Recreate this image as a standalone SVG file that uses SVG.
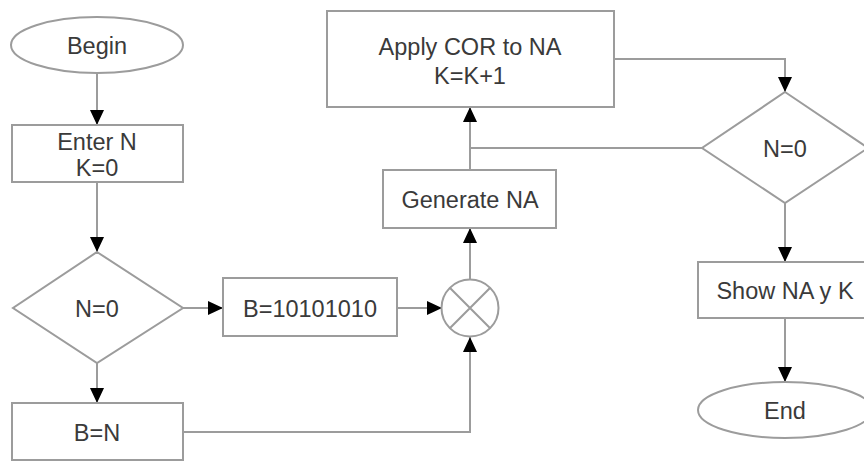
<svg xmlns="http://www.w3.org/2000/svg" width="864" height="461" viewBox="0 0 864 461">
<style>
.s{fill:#fff;stroke:#9c9c9c;stroke-width:2}
.t{font-family:"Liberation Sans",Arial,sans-serif;font-size:23.5px;fill:#3a3a3a;text-anchor:middle}
.c{fill:none;stroke:#9c9c9c;stroke-width:2}
</style>
<defs>
<marker id="a" markerUnits="userSpaceOnUse" markerWidth="16" markerHeight="16" viewBox="0 0 16 16" refX="15" refY="8" orient="auto">
<path d="M0,1 L15,8 L0,15 Z" fill="#000"/>
</marker>
</defs>
<rect width="864" height="461" fill="#fff"/>
<g id="connectors">
<path class="c" d="M97,73 V125" marker-end="url(#a)"/>
<path class="c" d="M97,182 V252" marker-end="url(#a)"/>
<path class="c" d="M183,308 H223" marker-end="url(#a)"/>
<path class="c" d="M97,363 V403" marker-end="url(#a)"/>
<path class="c" d="M397,308 H442" marker-end="url(#a)"/>
<path class="c" d="M183,432 H470 V337" marker-end="url(#a)"/>
<path class="c" d="M470,279 V228" marker-end="url(#a)"/>
<path class="c" d="M470,170 V107" marker-end="url(#a)"/>
<path class="c" d="M470,148 H702"/>
<path class="c" d="M614,59 H785 V92" marker-end="url(#a)"/>
<path class="c" d="M785,203 V262" marker-end="url(#a)"/>
<path class="c" d="M785,318 V382" marker-end="url(#a)"/>
</g>
<g id="begin">
<ellipse class="s" cx="97" cy="45" rx="86" ry="28"/>
<text class="t" x="97" y="54">Begin</text>
</g>
<g id="enter">
<rect class="s" x="12" y="125" width="171" height="57"/>
<text class="t" x="97" y="150">Enter N</text>
<text class="t" x="97" y="176">K=0</text>
</g>
<g id="decision1">
<polygon class="s" points="97,252 183,308 97,363 13,308"/>
<text class="t" x="97" y="317">N=0</text>
</g>
<g id="bconst">
<rect class="s" x="223" y="278" width="174" height="58"/>
<text class="t" x="310" y="317">B=10101010</text>
</g>
<g id="bn">
<rect class="s" x="12" y="403" width="171" height="57"/>
<text class="t" x="97" y="441">B=N</text>
</g>
<g id="xor">
<circle class="s" cx="470" cy="308" r="28.5"/>
<path class="c" d="M449.8,287.8 L490.2,328.2 M490.2,287.8 L449.8,328.2"/>
</g>
<g id="generate">
<rect class="s" x="383" y="170" width="173" height="58"/>
<text class="t" x="470" y="208">Generate NA</text>
</g>
<g id="apply">
<rect class="s" x="327" y="11" width="287" height="96"/>
<text class="t" x="470" y="55">Apply COR to NA</text>
<text class="t" x="470" y="84">K=K+1</text>
</g>
<g id="decision2">
<polygon class="s" points="785,92 868,148 785,203 702,148"/>
<text class="t" x="785" y="157">N=0</text>
</g>
<g id="show">
<rect class="s" x="698" y="262" width="174" height="56"/>
<text class="t" x="785" y="299">Show NA y K</text>
</g>
<g id="end">
<ellipse class="s" cx="785" cy="410" rx="87" ry="28"/>
<text class="t" x="785" y="419">End</text>
</g>
</svg>
